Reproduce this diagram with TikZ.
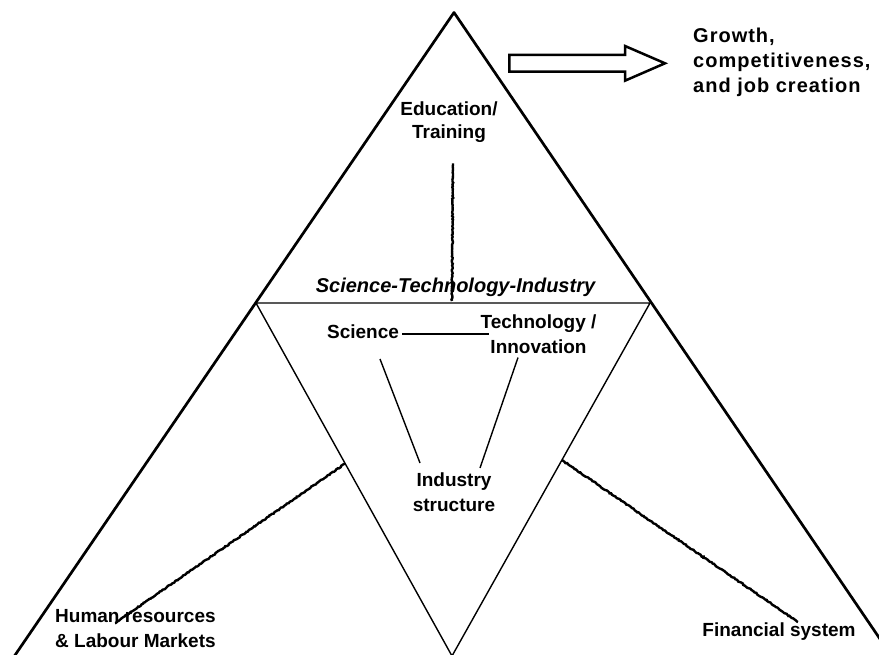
\documentclass[tikz,border=0pt]{standalone}
\usepackage{fontspec}
\setmainfont{Liberation Sans}
\usetikzlibrary{decorations.pathmorphing,calc}
\tikzset{
  outer/.style={line width=2.7pt, line join=round},
  thinline/.style={line width=1.4pt},
  rough/.style={line width=2.4pt, decorate, decoration={random steps, segment length=1.5pt, amplitude=0.55pt}},
  lbl/.style={font=\bfseries\fontsize{19}{25}\selectfont, inner sep=0pt},
  bigarrow/.style={line width=2.5pt, line join=miter},
}
\begin{document}
\begin{tikzpicture}[x=1pt,y=-1pt]
\useasboundingbox (0,0) rectangle (879,655);
\clip (0,0) rectangle (879,655);
% geometry
\coordinate (A) at (454,12.5);
\coordinate (Lb) at (8.3,665);
\coordinate (Rb) at (897.7,665);
\coordinate (P) at (256,303);
\coordinate (Q) at (650,303);
\coordinate (V) at (452,656);
% outer triangle
\draw[outer] (Lb) -- (A) -- (Rb);
% inner triangle
\draw[thinline] (P) -- (Q) -- (V) -- cycle;
% block arrow
\draw[bigarrow] (509.3,55) -- (625,55) -- (625,46) -- (665,63.3) -- (625,80.7) -- (625,71.7) -- (509.3,71.7) -- cycle;
% labels
\node[lbl, anchor=north, align=center, font=\bfseries\fontsize{19}{23}\selectfont] (edu) at (449,101.6) {Education/\\Training};
\node[lbl, anchor=base, font=\bfseries\itshape\fontsize{20}{25}\selectfont] (sti) at (455.5,293) {Science-Technology-Industry};
\node[lbl, anchor=base] (sci) at (363,338.3) {Science};
\node[lbl, anchor=north, align=center] (tech) at (538.5,314.5) {Technology /\\Innovation};
\node[lbl, anchor=north, align=center, font=\bfseries\fontsize{19}{25.7}\selectfont] (ind) at (454,472.2) {Industry\\structure};
\node[lbl, anchor=north west, align=left] (hrm) at (55,609.1) {Human resources\\\& Labour Markets};
\node[lbl, anchor=base] (fin) at (779,636) {Financial system};
\node[lbl, anchor=north west, align=left, font=\bfseries\fontsize{20}{25}\selectfont\addfontfeature{LetterSpace=5}] (gro) at (693,28.2) {Growth,\\competitiveness,\\and job creation};
% connectors inside the S-T-I triangle
\draw[thinline] ([shift={(3,-4.3)}]sci.base east) -- ([shift={(9,19.5)}]tech.north west);
\draw[thinline] ([shift={(17,20.7)}]sci.base) -- ([shift={(-34,-9.2)}]ind.north);
\draw[thinline] ([shift={(-20.5,3.7)}]tech.south) -- ([shift={(26,-4.2)}]ind.north);
% rough links
\coordinate (vend) at (452,301);
\coordinate (hl) at ($(P)!0.455!(V)$);
\coordinate (hr) at ($(Q)!0.445!(V)$);
\draw[rough] ([shift={(4,20.5)}]edu.south) -- (vend);
\draw[rough] (hl) -- ([shift={(60,14)}]hrm.north west);
\draw[rough] (hr) -- ([shift={(19,-14)}]fin.base);
\end{tikzpicture}
\end{document}
